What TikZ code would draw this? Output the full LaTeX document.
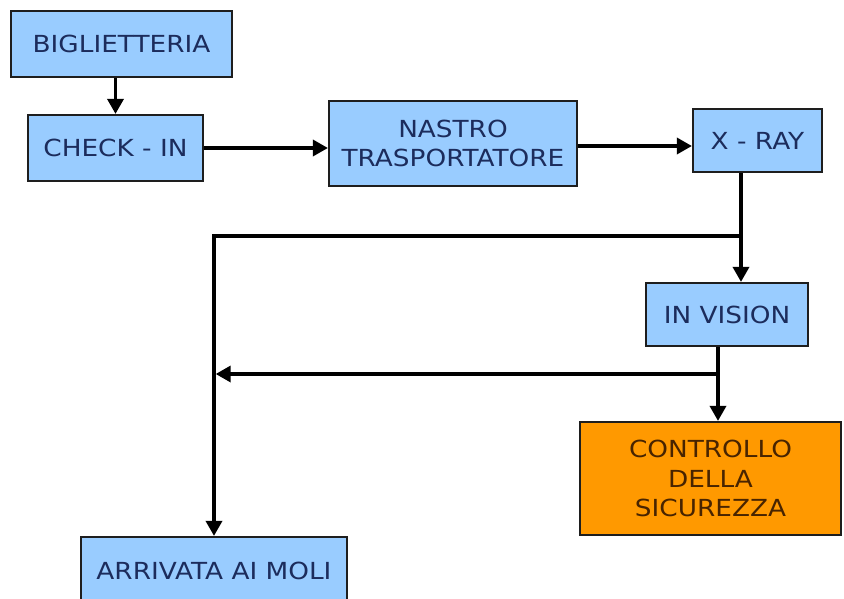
\documentclass[tikz,border=0pt]{standalone}
\usepackage{fontspec}
\setmainfont{DejaVu Sans}
\newfontfamily\boxfont[FakeStretch=1.12]{DejaVu Sans}
\usetikzlibrary{arrows.meta}
\definecolor{boxblue}{RGB}{153,204,255}
\definecolor{boxorange}{RGB}{255,153,0}
\definecolor{inkblue}{RGB}{28,44,92}
\definecolor{inkbrown}{RGB}{72,36,0}
\definecolor{edge}{RGB}{30,30,30}

\begin{document}
\begin{tikzpicture}[x=1pt,y=-1pt,
  stage/.style={draw=edge, line width=2.2pt, fill=boxblue, text=inkblue,
    font=\boxfont\fontsize{23.5}{29.5}\selectfont, align=center, inner sep=0pt},
  alert/.style={stage, fill=boxorange, text=inkbrown},
  flow/.style={draw=black, line width=3.4pt,
    -{Triangle[length=15pt,width=16pt]}}
]
\useasboundingbox (0,0) rectangle (844,599);
\clip (0,0) rectangle (844,599);

% process boxes
\node[stage, minimum width=221pt, minimum height=66pt] (bigl) at (121.5,44) {BIGLIETTERIA};
\node[stage, minimum width=175pt, minimum height=66pt] (check) at (115.5,148) {CHECK - IN};
\node[stage, minimum width=248pt, minimum height=85pt] (nastro) at (453,143.5) {NASTRO\\TRASPORTATORE};
\node[stage, minimum width=129pt, minimum height=63pt] (xray) at (757.5,140.5) {X - RAY};
\node[stage, minimum width=162pt, minimum height=63pt] (invision) at (727,314.5) {IN VISION};
\node[alert, minimum width=261pt, minimum height=113pt] (controllo) at (710.5,478.5) {CONTROLLO\\DELLA\\SICUREZZA};
\node[stage, minimum width=266pt, minimum height=68pt] (arrivata) at (214,571) {ARRIVATA AI MOLI};

% branch points
\coordinate (bx) at (741,236);
\coordinate (by) at (718,374);

% connectors
\draw[flow] (check.north |- bigl.south) -- (check.north);
\draw[flow] (check.east) -- (check.east -| nastro.west);
\draw[flow] ([yshift=-2.5pt]nastro.east) -- ([yshift=-2.5pt]nastro.east -| xray.west);
\draw[flow] (xray.south -| bx) -- (invision.north -| bx);
\draw[flow] (bx) -| (arrivata.north);
\draw[flow] (invision.south -| by) -- (controllo.north -| by);
\draw[flow, shorten >=1.7pt] (by) -- (by -| arrivata.north);
\end{tikzpicture}
\end{document}
